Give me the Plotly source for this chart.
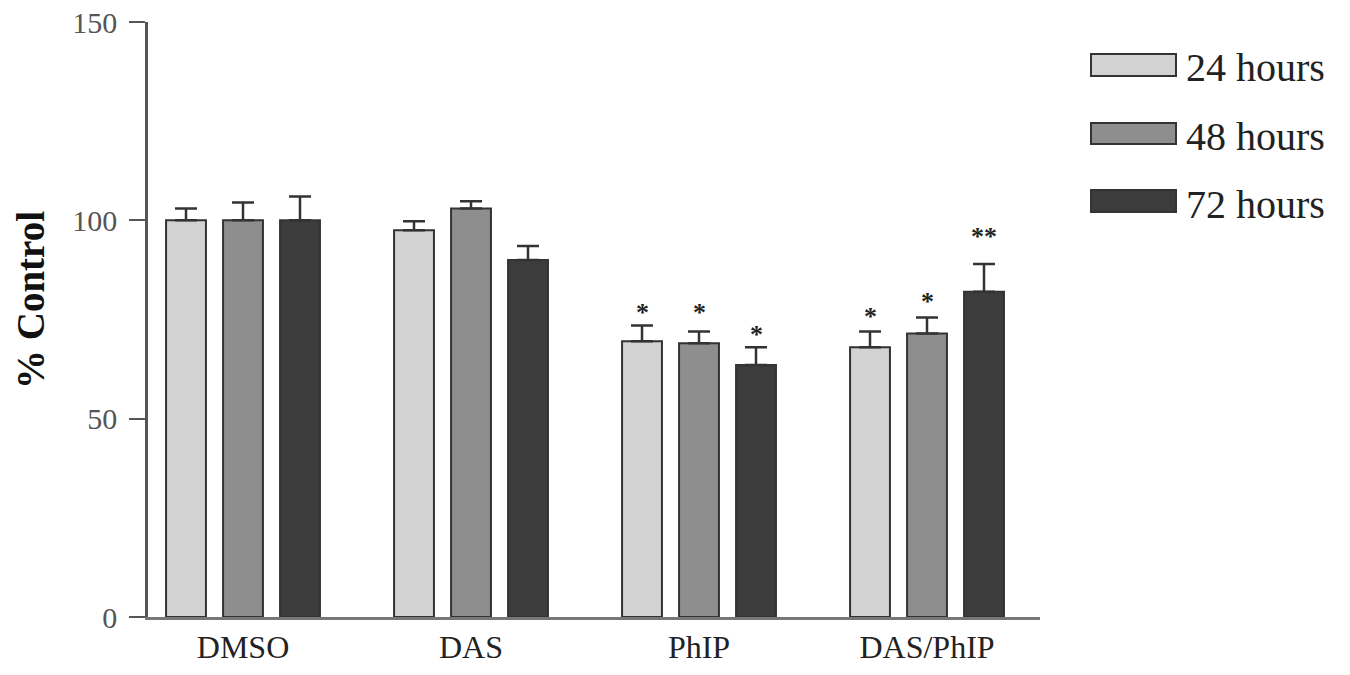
import plotly.graph_objects as go

# ---- data ----
categories = ["DMSO", "DAS", "PhIP", "DAS/PhIP"]
series_names = ["24 hours", "48 hours", "72 hours"]
values_24h = [100, 97.5, 69.5, 68.0]
values_48h = [100, 103.0, 69.0, 71.5]
values_72h = [100, 90.0, 63.5, 82.0]
err_24h = [3.0, 2.3, 4.0, 4.0]
err_48h = [4.5, 1.8, 3.0, 4.0]
err_72h = [6.0, 3.5, 4.5, 7.0]
# significance marks: (category index, series index, text, y position)
sig_cat = [2, 2, 2, 3, 3, 3]
sig_ser = [0, 1, 2, 0, 1, 2]
sig_txt = ["*", "*", "*", "*", "*", "**"]
sig_y = [78.6, 78.6, 73.0, 77.5, 81.4, 97.8]
y_ticks = [0, 50, 100, 150]

values = [values_24h, values_48h, values_72h]
errors = [err_24h, err_48h, err_72h]
fills = ["#d2d2d2", "#8e8e8e", "#3c3c3c"]
FONT = "Liberation Serif"

W, H = 1350, 675
L, R, T, B = 148, 1040, 22, 617
BARGAP = 0.25
xpos = list(range(len(categories)))

fig = go.Figure()
for i, name in enumerate(series_names):
    fig.add_trace(go.Bar(
        x=xpos, y=values[i], name=name,
        marker=dict(color=fills[i], line=dict(color="#333333", width=2)),
        error_y=dict(type="data", array=errors[i], arrayminus=[0] * len(xpos),
                     symmetric=False, color="#333333", thickness=2.5, width=11),
        showlegend=False,
    ))

slot = (1 - BARGAP) / len(series_names)
annotations = []
for c, s, t, yv in zip(sig_cat, sig_ser, sig_txt, sig_y):
    annotations.append(dict(
        x=xpos[c] + (s - (len(series_names) - 1) / 2) * slot, y=yv,
        xref="x", yref="y", text="<b>" + t + "</b>", showarrow=False,
        xanchor="center", yanchor="middle", yshift=-7,
        font=dict(family=FONT, size=26, color="#222222"),
    ))

def px_to_paper_x(px):
    return (px - L) / (R - L)

def px_to_paper_y(py):
    return (B - py) / (B - T)

# y-axis title
annotations.append(dict(
    x=px_to_paper_x(30), y=px_to_paper_y(300), xref="paper", yref="paper",
    text="<b>% Control</b>", textangle=-90, showarrow=False,
    xanchor="center", yanchor="middle",
    font=dict(family=FONT, size=39, color="#111111"),
))

# custom legend
shapes = []
legend_boxes = [(54, 76), (123, 144), (190, 212)]
for i, name in enumerate(series_names):
    y0, y1 = legend_boxes[i]
    shapes.append(dict(
        type="rect", xref="paper", yref="paper",
        x0=px_to_paper_x(1091), x1=px_to_paper_x(1176),
        y0=px_to_paper_y(y1), y1=px_to_paper_y(y0),
        fillcolor=fills[i], line=dict(color="#333333", width=2),
    ))
    annotations.append(dict(
        x=px_to_paper_x(1184), y=px_to_paper_y((y0 + y1) / 2 + 3),
        xref="paper", yref="paper", text=name, showarrow=False,
        xanchor="left", yanchor="middle",
        font=dict(family=FONT, size=40, color="#222222"),
    ))

x_lo = -0.4167
x_hi = x_lo + (R - L) / 228.0

fig.update_layout(
    width=W, height=H,
    margin=dict(l=L, r=W - R, t=T, b=H - B, autoexpand=False),
    paper_bgcolor="white", plot_bgcolor="white",
    barmode="group", bargap=BARGAP, bargroupgap=0.3,
    font=dict(family=FONT),
    xaxis=dict(
        range=[x_lo, x_hi], tickmode="array", tickvals=xpos, ticktext=categories,
        showline=True, linecolor="#777777", linewidth=3, ticks="",
        showgrid=False, zeroline=False,
        tickfont=dict(family=FONT, size=32, color="#222222"),
    ),
    yaxis=dict(
        range=[0, 150], tickmode="array", tickvals=y_ticks,
        showline=True, linecolor="#555555", linewidth=2.5,
        ticks="outside", ticklen=16, tickwidth=2, tickcolor="#555555",
        showgrid=False, zeroline=False, ticklabelstandoff=6,
        ticklabeloverflow="allow",
        tickfont=dict(family=FONT, size=30, color="#555555"),
    ),
    shapes=shapes, annotations=annotations,
)

fig.write_html(
    "out.html",
    config={"displayModeBar": False},
    post_script="document.body.style.margin='0';document.body.style.overflow='hidden';",
)
